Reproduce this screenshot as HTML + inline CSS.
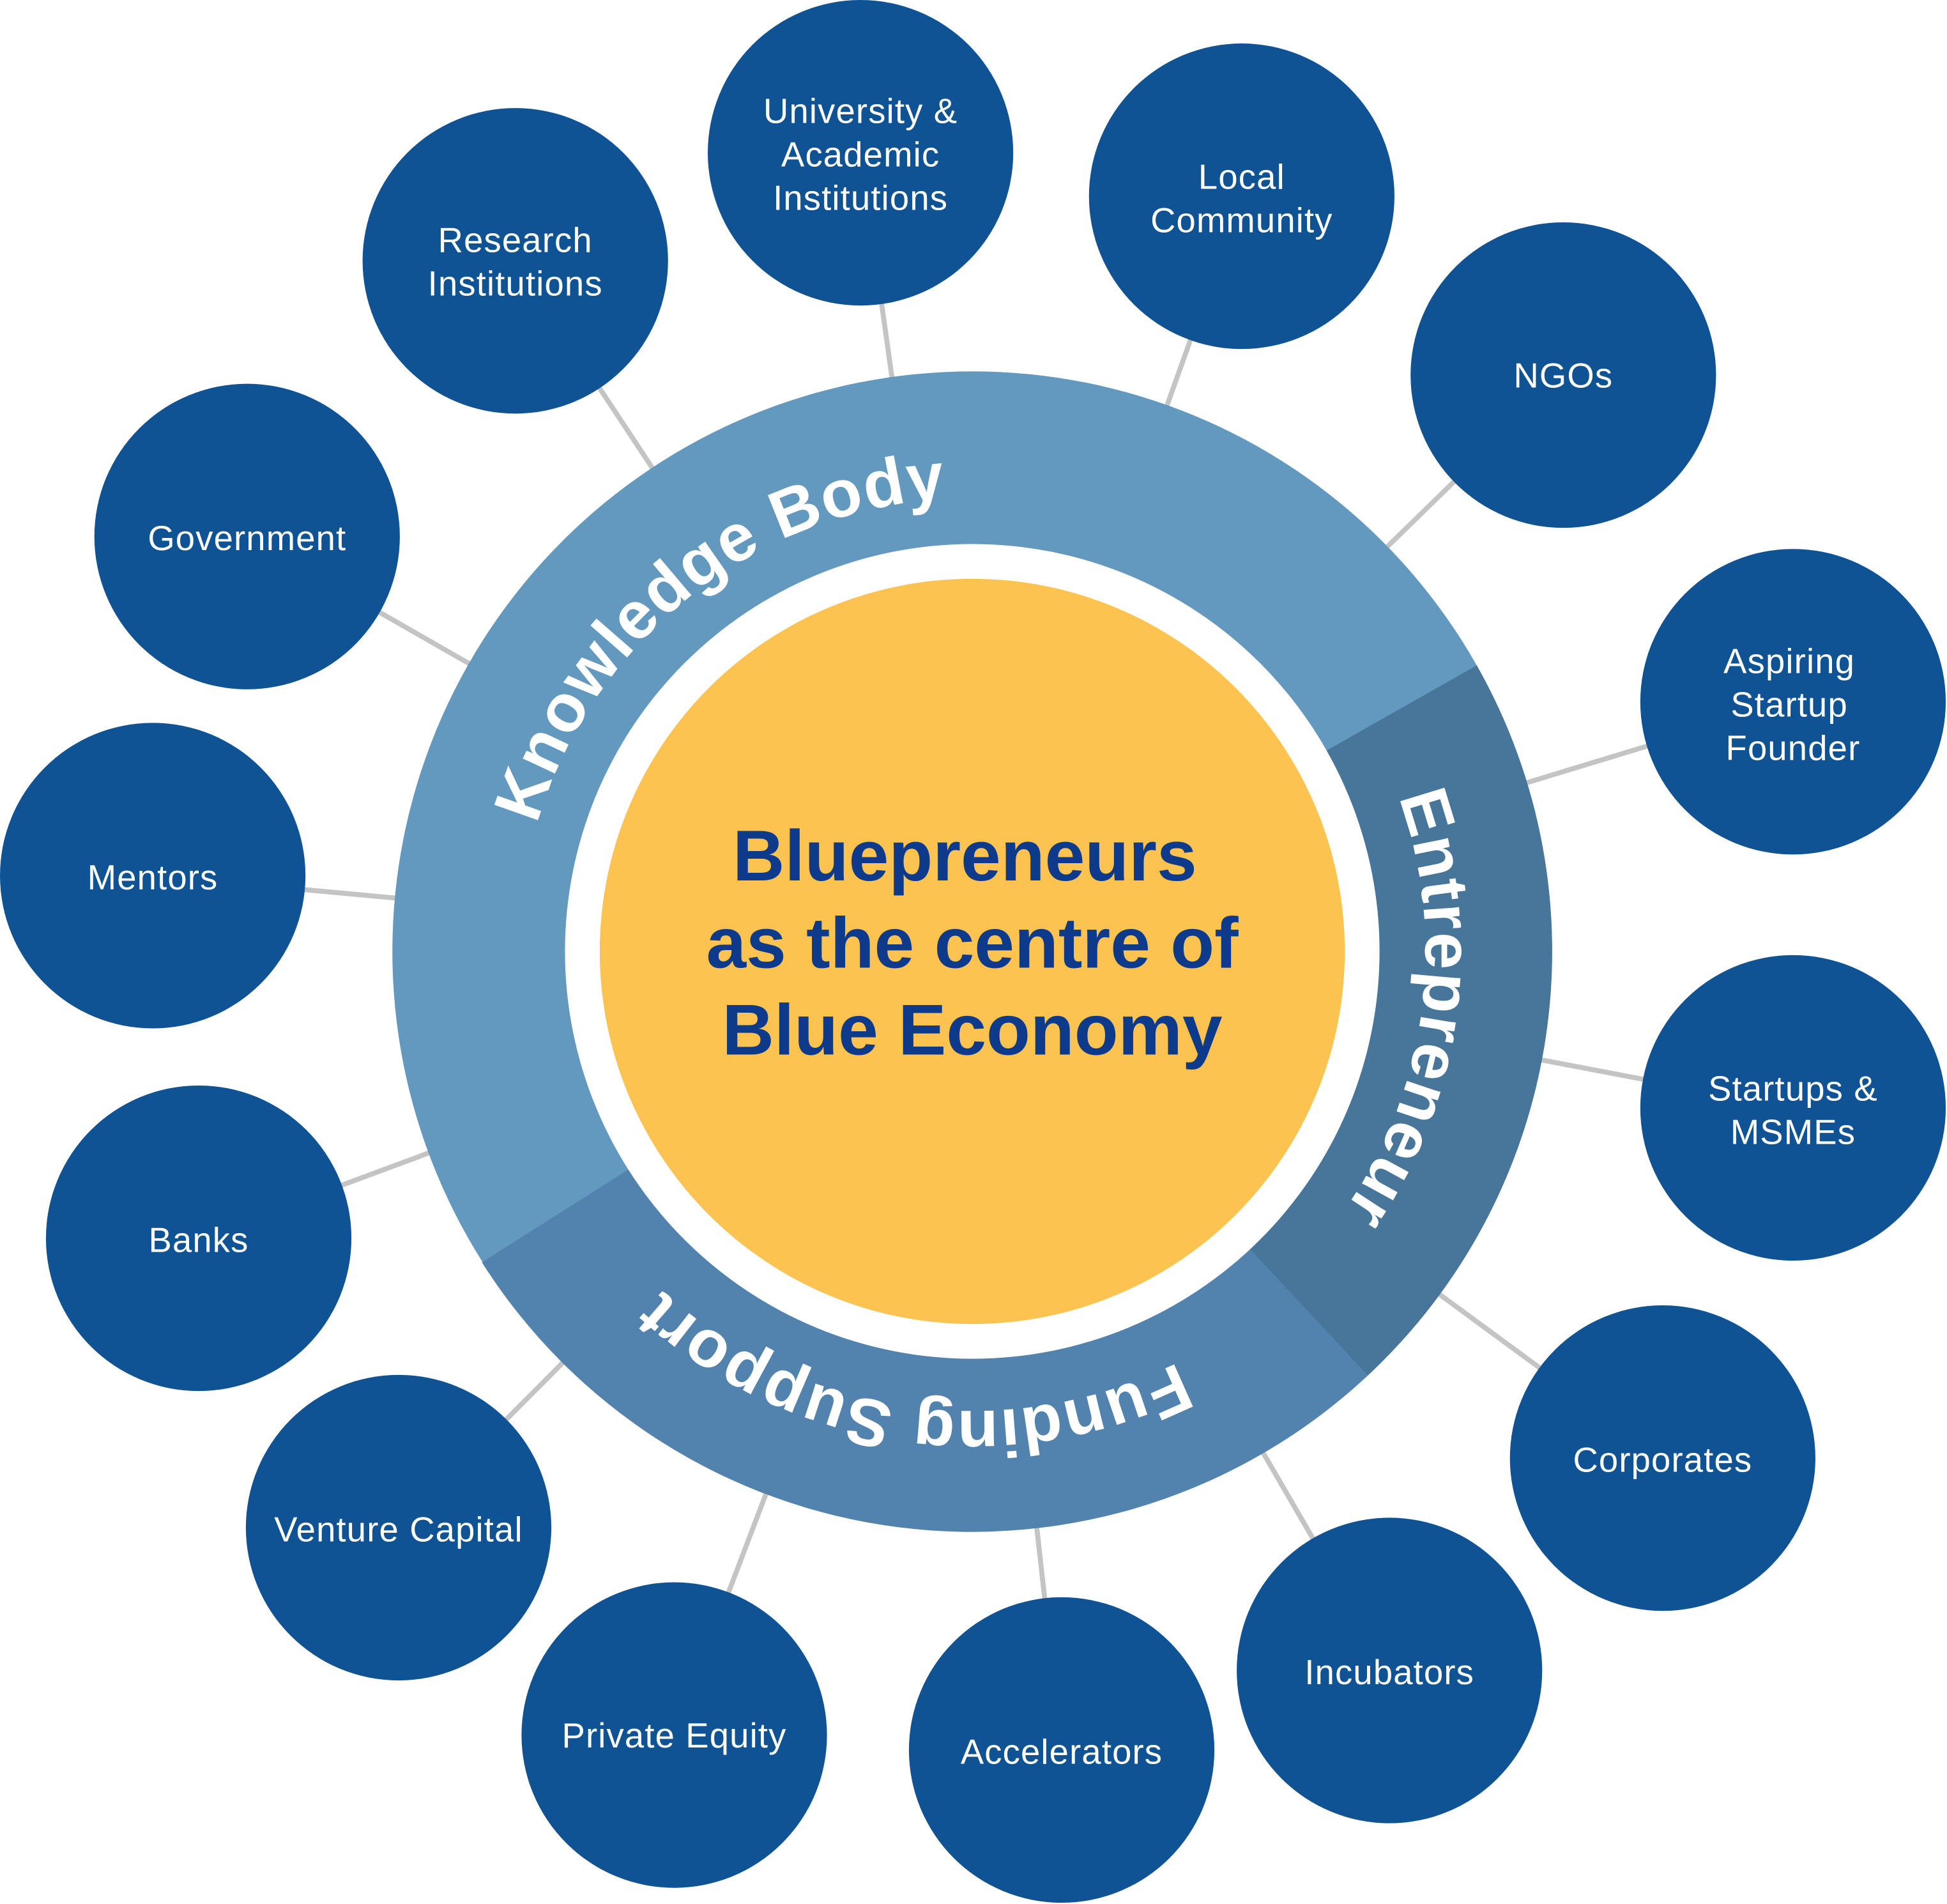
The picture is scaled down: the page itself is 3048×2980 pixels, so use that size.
<!DOCTYPE html>
<html><head><meta charset="utf-8"><style>html,body{margin:0;padding:0;background:#fff}svg{display:block}</style></head>
<body>
<svg width="3048" height="2980" viewBox="0 0 1568 1533" xmlns="http://www.w3.org/2000/svg" font-family="Liberation Sans, sans-serif">
<defs>
<path id="kb" d="M 423.5 829.4 A 365 365 0 0 1 925.6 430.0"/>
<path id="en" d="M 1082.0 556.6 A 365 365 0 0 1 1017.6 1045.6"/>
<path id="fs" d="M 1066.4 1003.8 A 370 370 0 0 1 445.0 916.5"/>
</defs>
<g stroke="#c4c4c4" stroke-width="4">
<line x1="783" y1="766" x2="693" y2="123"/><line x1="783" y1="766" x2="1000" y2="158"/>
<line x1="783" y1="766" x2="1259" y2="302"/><line x1="783" y1="766" x2="1444" y2="565"/>
<line x1="783" y1="766" x2="1444" y2="892"/><line x1="783" y1="766" x2="1339" y2="1174"/>
<line x1="783" y1="766" x2="1119" y2="1345"/><line x1="783" y1="766" x2="855" y2="1409"/>
<line x1="783" y1="766" x2="543" y2="1397"/><line x1="783" y1="766" x2="321" y2="1230"/>
<line x1="783" y1="766" x2="160" y2="997"/><line x1="783" y1="766" x2="123" y2="705"/>
<line x1="783" y1="766" x2="199" y2="432"/><line x1="783" y1="766" x2="415" y2="210"/>
</g>
<circle cx="783" cy="766" r="467" fill="#6399bf"/>
<path d="M783 766 L1189.3 535.7 A467 467 0 0 1 1101.5 1107.5 Z" fill="#48769a"/>
<path d="M783 766 L1101.5 1107.5 A467 467 0 0 1 388.1 1016.4 Z" fill="#5283ae"/>
<circle cx="783" cy="766" r="328" fill="#fff"/>
<circle cx="783" cy="766" r="300" fill="#fcc351"/>
<g fill="#fff" font-weight="bold" font-size="54" letter-spacing="0.8">
<text><textPath href="#kb" startOffset="50%" text-anchor="middle">Knowledge Body</textPath></text>
<text><textPath href="#en" startOffset="50%" text-anchor="middle">Entrepreneur</textPath></text>
<text><textPath href="#fs" startOffset="50%" text-anchor="middle">Funding Support</textPath></text>
</g>
<g fill="#0d3a8a" font-weight="bold" font-size="58" text-anchor="middle">
<text x="777" y="709">Bluepreneurs</text>
<text x="783" y="779">as the centre of</text>
<text x="783" y="849">Blue Economy</text>
</g>
<g fill="#105394">
<circle cx="693" cy="123" r="123"/><circle cx="1000" cy="158" r="123"/>
<circle cx="1259" cy="302" r="123"/><circle cx="1444" cy="565" r="123"/>
<circle cx="1444" cy="892" r="123"/><circle cx="1339" cy="1174" r="123"/>
<circle cx="1119" cy="1345" r="123"/><circle cx="855" cy="1409" r="123"/>
<circle cx="543" cy="1397" r="123"/><circle cx="321" cy="1230" r="123"/>
<circle cx="160" cy="997" r="123"/><circle cx="123" cy="705" r="123"/>
<circle cx="199" cy="432" r="123"/><circle cx="415" cy="210" r="123"/>
</g>
<g fill="#fff" font-size="28" letter-spacing="0.6" text-anchor="middle">
<text x="693" y="99">University &amp;</text><text x="693" y="134">Academic</text><text x="693" y="169">Institutions</text>
<text x="1000" y="152">Local</text><text x="1000" y="187">Community</text>
<text x="1259" y="312">NGOs</text>
<text x="1441" y="542">Aspiring</text><text x="1441" y="577">Startup</text><text x="1444" y="612">Founder</text>
<text x="1444" y="886">Startups &amp;</text><text x="1444" y="921">MSMEs</text>
<text x="1339" y="1185">Corporates</text>
<text x="1119" y="1356">Incubators</text>
<text x="855" y="1420">Accelerators</text>
<text x="543" y="1407">Private Equity</text>
<text x="321" y="1241">Venture Capital</text>
<text x="160" y="1008">Banks</text>
<text x="123" y="716">Mentors</text>
<text x="199" y="443">Government</text>
<text x="415" y="203">Research</text><text x="415" y="238">Institutions</text>
</g>
</svg>
</body></html>
